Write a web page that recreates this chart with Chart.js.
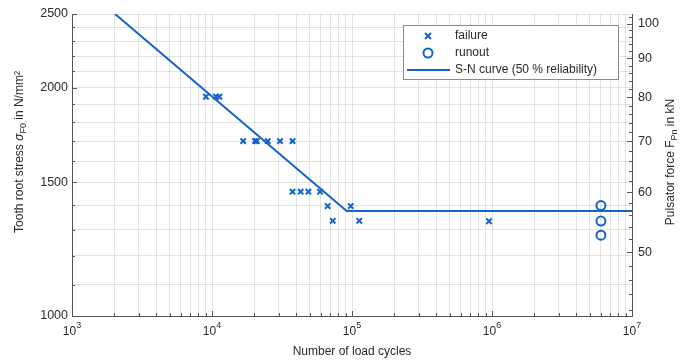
<!DOCTYPE html>
<html>
<head>
<meta charset="utf-8">
<script src="https://cdn.jsdelivr.net/npm/chart.js@4"></script>
<style>
  html, body { margin: 0; padding: 0; background: #fff; }
  #wrap { width: 690px; height: 362px; }
</style>
</head>
<body>
<div id="wrap"><canvas id="chart"></canvas></div>
<script>
// failures (cycles to failure, stress in N/mm²)
const failureCycles = [9060, 10700, 11300, 16700, 20300, 20900, 25000, 30600, 37600, 37600, 43000, 48800, 59100, 67000, 97900, 72800, 112700, 952000];
const failureStress = [1945, 1945, 1945, 1700, 1700, 1700, 1700, 1700, 1700, 1458, 1458, 1458, 1458, 1396, 1396, 1335, 1335, 1333];

// runouts
const runoutCycles = [6000000, 6000000, 6000000];
const runoutStress = [1398, 1334, 1278];

// S-N curve (50 % reliability)
const curveCycles = [2030, 91600, 10000000];
const curveStress = [2500, 1375, 1375];

// axes
const cycleDecades = [1e3, 1e4, 1e5, 1e6, 1e7];
const stressTicks = [1000, 1100, 1200, 1300, 1400, 1500, 1600, 1700, 1800, 1900, 2000, 2100, 2200, 2300, 2400, 2500];
const stressLabels = [1000, 1500, 2000, 2500];
const forceTicks = [42, 44, 46, 48, 50, 52, 54, 56, 58, 60, 62, 64, 66, 68, 70, 72, 74, 76, 78, 80, 82, 84, 86, 88, 90, 92, 94, 96, 98, 100, 102];
const forceLabels = [50, 60, 70, 80, 90, 100];
const forcePerStress = 0.0412; // kN per N/mm²

const blue = '#1463c6';
const gridColor = 'rgba(0, 0, 0, 0.11)';
const axisColor = '#555';
const textColor = '#2a2a2a';
const fontFamily = '"Liberation Sans", Arial, Helvetica, sans-serif';

// minor ticks 1..9 per decade
const cycleTicks = [];
cycleDecades.forEach((d, i) => {
    if (i === cycleDecades.length - 1) { cycleTicks.push(d); return; }
    for (let k = 1; k < 10; k++) cycleTicks.push(d * k);
});

// inward tick marks, 10^n labels, rotated axis titles with subscripts, legend box
const extras = {
    id: 'extras',
    afterDraw(chart) {
        const ctx = chart.ctx;
        const area = chart.chartArea;
        const sx = chart.scales.x, sy = chart.scales.y, sy2 = chart.scales.y2;
        const f = '12px ' + fontFamily;
        const fs = '9px ' + fontFamily;
        ctx.save();
        ctx.strokeStyle = axisColor;
        ctx.lineWidth = 1;
        ctx.beginPath();
        cycleTicks.forEach(v => {
            const px = Math.round(sx.getPixelForValue(v)) + 0.5;
            const len = cycleDecades.includes(v) ? 5 : 3;
            ctx.moveTo(px, area.bottom);
            ctx.lineTo(px, area.bottom - len);
        });
        stressTicks.forEach(v => {
            const py = Math.round(sy.getPixelForValue(v)) + 0.5;
            const len = stressLabels.includes(v) ? 5 : 3;
            ctx.moveTo(area.left, py);
            ctx.lineTo(area.left + len, py);
        });
        forceTicks.forEach(v => {
            const py = Math.round(sy2.getPixelForValue(v)) + 0.5;
            const len = forceLabels.includes(v) ? 5 : 3;
            ctx.moveTo(area.right, py);
            ctx.lineTo(area.right - len, py);
        });
        ctx.stroke();

        // x labels 10^n
        ctx.fillStyle = textColor;
        ctx.textBaseline = 'alphabetic';
        ctx.textAlign = 'left';
        cycleDecades.forEach(v => {
            const e = String(Math.round(Math.log10(v)));
            ctx.font = f;
            const w1 = ctx.measureText('10').width;
            ctx.font = fs;
            const w2 = ctx.measureText(e).width;
            const x0 = sx.getPixelForValue(v) - (w1 + w2) / 2;
            ctx.font = f;
            ctx.fillText('10', x0, 335);
            ctx.font = fs;
            ctx.fillText(e, x0 + w1, 328);
        });

        // y titles
        function vTitle(parts, cx, cy) {
            ctx.save();
            ctx.translate(cx, cy);
            ctx.rotate(-Math.PI / 2);
            ctx.fillStyle = textColor;
            ctx.textBaseline = 'middle';
            ctx.textAlign = 'left';
            let total = 0;
            parts.forEach(p => { ctx.font = p.font; total += ctx.measureText(p.text).width; });
            let x = -total / 2;
            parts.forEach(p => {
                ctx.font = p.font;
                ctx.fillText(p.text, x, p.dy || 0);
                x += ctx.measureText(p.text).width;
            });
            ctx.restore();
        }
        vTitle([
            { text: 'Tooth root stress ', font: f },
            { text: 'σ', font: 'italic ' + f },
            { text: 'F0', font: fs, dy: 4 },
            { text: ' in N/mm²', font: f }
        ], 20, 152);
        vTitle([
            { text: 'Pulsator force F', font: f },
            { text: 'Pn', font: fs, dy: 4 },
            { text: ' in kN', font: f }
        ], 671, 162);

        // legend
        const lx = 403.5, ly = 25.5, lw = 215, lh = 54;
        ctx.fillStyle = '#fff';
        ctx.fillRect(lx, ly, lw, lh);
        ctx.strokeStyle = '#8a8a8a';
        ctx.lineWidth = 1;
        ctx.strokeRect(lx, ly, lw, lh);

        ctx.strokeStyle = blue;
        ctx.lineWidth = 2;
        const cx = 428, cy = 36, r = 3;
        ctx.beginPath();
        ctx.moveTo(cx - r, cy - r); ctx.lineTo(cx + r, cy + r);
        ctx.moveTo(cx - r, cy + r); ctx.lineTo(cx + r, cy - r);
        ctx.stroke();
        ctx.beginPath();
        ctx.arc(428, 53, 4.5, 0, Math.PI * 2);
        ctx.stroke();
        ctx.beginPath();
        ctx.moveTo(407, 70); ctx.lineTo(450, 70);
        ctx.stroke();

        ctx.fillStyle = textColor;
        ctx.font = f;
        ctx.textBaseline = 'middle';
        ctx.fillText('failure', 455, 36);
        ctx.fillText('runout', 455, 53);
        ctx.fillText('S-N curve (50 % reliability)', 455, 70);
        ctx.restore();
    }
};

new Chart(document.getElementById('chart'), {
    type: 'scatter',
    data: {
        datasets: [
            {
                label: 'failure',
                data: failureCycles.map((n, i) => ({ x: n, y: failureStress[i] })),
                pointStyle: 'crossRot',
                pointRadius: 3.8,
                pointBorderWidth: 2,
                borderColor: blue,
                backgroundColor: blue,
                yAxisID: 'y',
            },
            {
                label: 'runout',
                data: runoutCycles.map((n, i) => ({ x: n, y: runoutStress[i] })),
                pointStyle: 'circle',
                pointRadius: 4.5,
                pointBorderWidth: 2,
                borderColor: blue,
                backgroundColor: 'rgba(0, 0, 0, 0)',
                yAxisID: 'y',
            },
            {
                label: 'S-N curve (50 % reliability)',
                data: curveCycles.map((n, i) => ({ x: n, y: curveStress[i] })),
                showLine: true,
                pointRadius: 0,
                borderWidth: 2,
                borderColor: blue,
                tension: 0,
                yAxisID: 'y',
            },
        ],
    },
    options: {
        responsive: true,
        maintainAspectRatio: false,
        animation: false,
        devicePixelRatio: 1,
        layout: { padding: { top: 14, left: 0, right: 0, bottom: 0 } },
        plugins: {
            legend: { display: false },
            tooltip: { enabled: false },
        },
        scales: {
            x: {
                type: 'logarithmic',
                position: 'bottom',
                min: 1000,
                max: 1e7,
                afterBuildTicks: (s) => { s.ticks = cycleTicks.map(v => ({ value: v })); },
                afterFit: (s) => { s.height = 46; },
                ticks: {
                    autoSkip: false,
                    maxRotation: 0,
                    padding: 4,
                    font: { family: fontFamily, size: 12 },
                    callback: () => '', // decade labels drawn by the extras plugin
                },
                grid: { color: gridColor, drawTicks: false },
                border: { color: axisColor },
                title: {
                    display: true,
                    text: 'Number of load cycles',
                    color: textColor,
                    font: { family: fontFamily, size: 12 },
                    padding: { top: 0, bottom: 3 },
                },
            },
            y: {
                type: 'logarithmic',
                position: 'left',
                min: 1000,
                max: 2500,
                afterBuildTicks: (s) => { s.ticks = stressTicks.map(v => ({ value: v })); },
                afterFit: (s) => { s.width = 72; },
                ticks: {
                    autoSkip: false,
                    padding: 4,
                    color: textColor,
                    font: { family: fontFamily, size: 12.5 },
                    callback: (v) => stressLabels.includes(Math.round(v)) ? String(Math.round(v)) : '',
                },
                grid: { color: gridColor, drawTicks: false },
                border: { color: axisColor },
            },
            y2: {
                type: 'logarithmic',
                position: 'right',
                min: 1000 * forcePerStress,
                max: 2500 * forcePerStress,
                afterBuildTicks: (s) => { s.ticks = forceTicks.map(v => ({ value: v })); },
                afterFit: (s) => { s.width = 58; },
                ticks: {
                    autoSkip: false,
                    padding: 6,
                    color: textColor,
                    font: { family: fontFamily, size: 12.5 },
                    callback: (v) => forceLabels.includes(Math.round(v)) ? String(Math.round(v)) : '',
                },
                grid: { drawOnChartArea: false, drawTicks: false },
                border: { color: axisColor },
            },
        },
    },
    plugins: [extras],
});
</script>
</body>
</html>
